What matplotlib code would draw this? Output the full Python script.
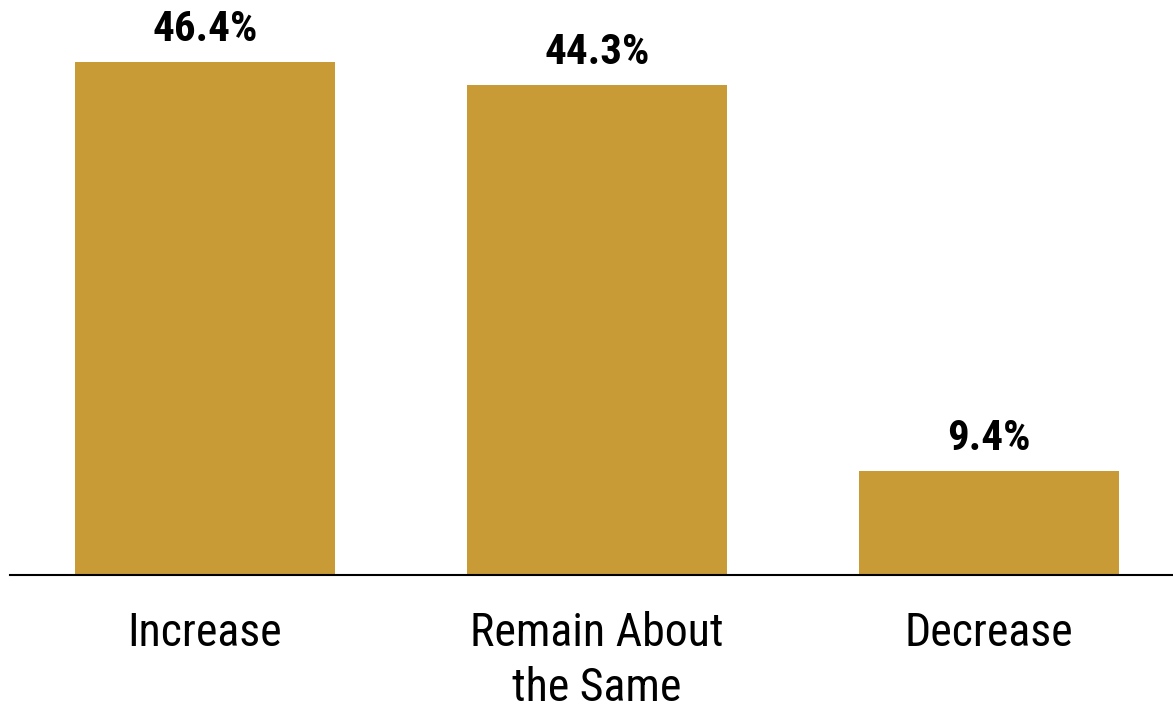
import matplotlib
matplotlib.use("Agg")
import matplotlib.pyplot as plt

categories = ["Increase", "Remain About\nthe Same", "Decrease"]
values = [46.4, 44.3, 9.4]
value_labels = ["46.4%", "44.3%", "9.4%"]

plt.rcParams["font.family"] = ["Roboto Condensed", "Liberation Sans", "DejaVu Sans"]

fig = plt.figure(figsize=(11.73, 7.08), dpi=100)
ax = fig.add_axes([10 / 1173, 1 - 575 / 708, 1 - 10 / 1173, 575 / 708])

x = range(len(categories))
bars = ax.bar(x, values, width=0.663, color="#C89B37")

# percentage labels above each bar
for b, lab in zip(bars, value_labels):
    ax.annotate(lab, (b.get_x() + b.get_width() / 2, b.get_height()),
                xytext=(0, 15), textcoords="offset points",
                ha="center", va="baseline", fontsize=31, fontweight="bold", color="black")

ax.set_xlim(-0.497, 2.469)
ax.set_ylim(0, 52)
ax.set_xticks(list(x))
ax.set_xticklabels(categories, fontsize=33, linespacing=1.3)
ax.tick_params(axis="x", length=0, pad=26)
ax.set_yticks([])
for s in ["top", "right", "left"]:
    ax.spines[s].set_visible(False)
ax.spines["bottom"].set_linewidth(1.5)

fig.savefig("out.png", dpi=100)
